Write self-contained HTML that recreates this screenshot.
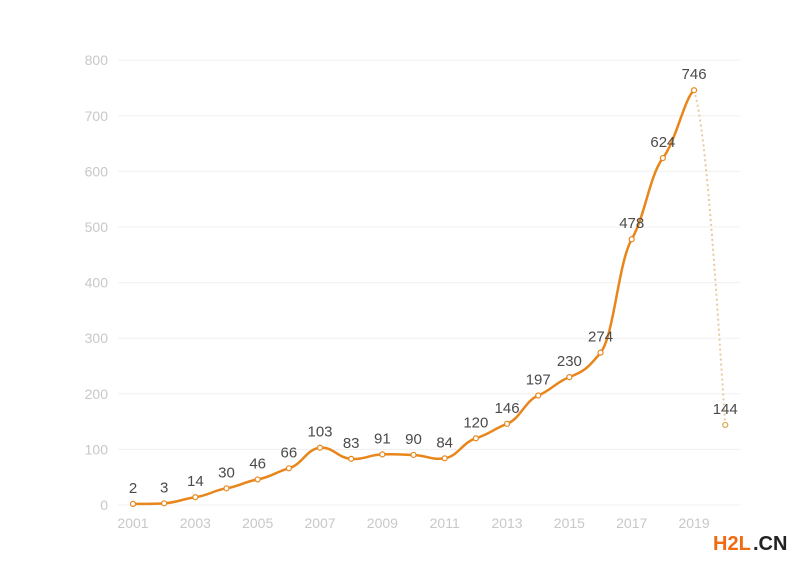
<!DOCTYPE html>
<html><head><meta charset="utf-8"><style>
html,body{margin:0;padding:0;background:#fff;width:800px;height:564px;overflow:hidden}
svg{display:block}
text{font-family:"Liberation Sans",sans-serif}
</style></head><body>
<svg id="s" width="800" height="564" xmlns="http://www.w3.org/2000/svg"></svg>
<script>
const s=document.getElementById('s');const NS='http://www.w3.org/2000/svg';
function el(t,a,txt){const e=document.createElementNS(NS,t);for(const k in a)e.setAttribute(k,a[k]);if(txt!=null)e.textContent=txt;s.appendChild(e);return e;}
const X=y=>133+(y-2001)*31.17, Y=v=>505-v*0.556;
for(let v=0;v<=800;v+=100){el('line',{x1:118,x2:740,y1:Y(v),y2:Y(v),stroke:'#f0f0f0','stroke-width':1});
el('text',{x:108,y:Y(v)+5,'text-anchor':'end','font-size':14,fill:'#c8c8c8'},v);}
for(let y=2001;y<=2019;y+=2)el('text',{x:X(y),y:528,'text-anchor':'middle','font-size':14,fill:'#c8c8c8'},y);
const d=[2,3,14,30,46,66,103,83,91,90,84,120,146,197,230,274,478,624,746];
const p=d.map((v,i)=>[X(2001+i),Y(v)]);
let path='M'+p[0];
for(let i=0;i<p.length-1;i++){const p0=p[i-1]||p[i],p1=p[i],p2=p[i+1],p3=p[i+2]||p2;const t=0.12;
const c1=[p1[0]+(p2[0]-p0[0])*t+6,p1[1]+(p2[1]-p0[1])*t],c2=[p2[0]-(p3[0]-p1[0])*t-6,p2[1]-(p3[1]-p1[1])*t];
path+=' C'+c1+' '+c2+' '+p2;}
el('path',{d:path,fill:'none',stroke:'#e8861c','stroke-width':2.5});
const e=[X(2020),Y(144)];
el('path',{d:`M${p[18]} C${p[18][0]+12},${p[18][1]+40} ${e[0]-10},${e[1]-150} ${e}`,fill:'none',stroke:'#e8c9a0','stroke-width':2,'stroke-dasharray':'2 3'});
p.forEach((q,i)=>{el('circle',{cx:q[0],cy:q[1],r:2.5,fill:'#fff',stroke:'#e8861c','stroke-width':1.2});
el('text',{x:q[0],y:q[1]-11,'text-anchor':'middle','font-size':15,fill:'#4a4a4a'},d[i]);});
el('circle',{cx:e[0],cy:e[1],r:2.5,fill:'#fff',stroke:'#d4a84a','stroke-width':1.2});
el('text',{x:e[0],y:e[1]-11,'text-anchor':'middle','font-size':15,fill:'#4a4a4a'},144);
el('text',{x:713,y:550,'font-size':20,'font-weight':'bold',fill:'#f06a10'},'H2L');
el('text',{x:753,y:550,'font-size':20,'font-weight':'bold',fill:'#222'},'.CN');
</script>
</body></html>
